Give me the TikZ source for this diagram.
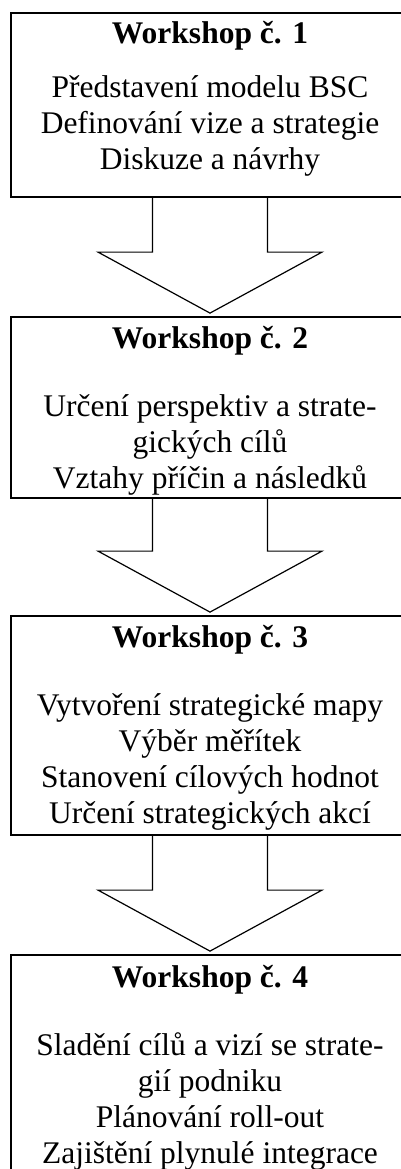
\documentclass[tikz,border=0pt]{standalone}
\usepackage{fontspec}
\setmainfont{Liberation Serif}
\usepackage{tikz}
\usetikzlibrary{calc}

\tikzset{
  wsbox/.style={draw, line width=1.8pt, minimum width=398pt, inner sep=0pt},
  wstitle/.style={anchor=base, inner sep=0pt, font=\fontsize{31.5}{36}\selectfont\bfseries},
  wstext/.style={anchor=base, inner sep=0pt, align=center, font=\fontsize{31.5}{36}\selectfont},
  wsarrow/.style={draw, line width=1.2pt, line join=miter}
}

% shaft and head of the big arrow between two boxes
\newcommand{\bigarrow}[2]{%
  \draw[wsarrow] ([xshift=-\sw pt]#1.south) -- ([xshift=-\sw pt,yshift=\hl pt]#2.north)
    -- ([xshift=-\hw pt,yshift=\hl pt]#2.north) -- ([yshift=3pt]#2.north)
    -- ([xshift=\hw pt,yshift=\hl pt]#2.north) -- ([xshift=\sw pt,yshift=\hl pt]#2.north)
    -- ([xshift=\sw pt]#1.south);
}

\begin{document}
\begin{tikzpicture}[x=1pt,y=-1pt]
    \pgfmathsetmacro{\sw}{57.5}
    \pgfmathsetmacro{\hw}{112}
    \pgfmathsetmacro{\hl}{64}
    \useasboundingbox (0,0) rectangle (400,1169);

    % Draw the boxes
    \node [wsbox, minimum height=184pt] (box1) at (210,105) {};
    \node [wsbox, minimum height=181pt] (box2) at (210,407.5) {};
    \node [wsbox, minimum height=219pt] (box3) at (210,725.5) {};
    \node [wsbox, minimum height=260pt] (box4) at (210,1085) {};

    % Draw the arrows
    \bigarrow{box1}{box2}
    \bigarrow{box2}{box3}
    \bigarrow{box3}{box4}

    % Workshop texts (base = last line)
    \node [wstitle] (t1) at (210,44) {Workshop č. 1};
    \node [wstext] (d1) at (210,170) {Představení modelu BSC\\Definování vize a strategie\\Diskuze a návrhy};
    \node [wstitle] (t2) at (210,348) {Workshop č. 2};
    \node [wstext] (d2) at (210,488) {Určení perspektiv a strate-\\gických cílů\\Vztahy příčin a následků};
    \node [wstitle] (t3) at (210,647) {Workshop č. 3};
    \node [wstext] (d3) at (210,823) {Vytvoření strategické mapy\\Výběr měřítek\\Stanovení cílových hodnot\\Určení strategických akcí};
    \node [wstitle] (t4) at (210,987) {Workshop č. 4};
    \node [wstext] (d4) at (210,1163) {Sladění cílů a vizí se strate-\\gií podniku\\Plánování roll-out\\Zajištění plynulé integrace};

\end{tikzpicture}
\end{document}
